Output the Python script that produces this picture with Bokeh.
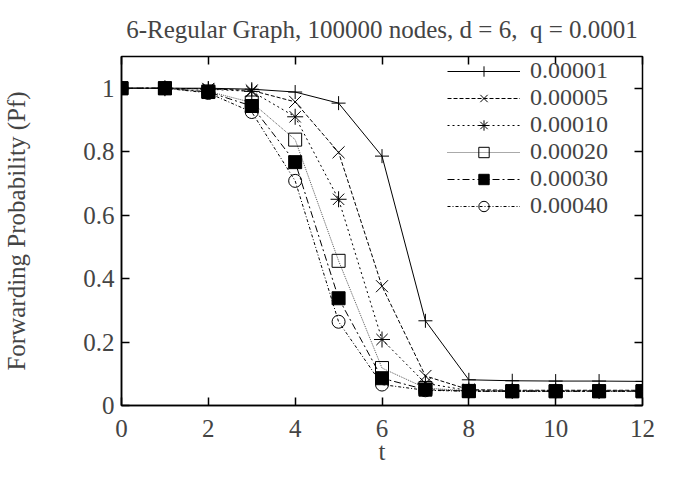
from bokeh.plotting import figure
from bokeh.models import FixedTicker, CustomJSTickFormatter, LinearAxis, Legend, Range1d
from bokeh.embed import file_html
from bokeh.resources import INLINE

t = [0, 1, 2, 3, 4, 5, 6, 7, 8, 9, 10, 11, 12]
labels = ["0.00001", "0.00005", "0.00010", "0.00020", "0.00030", "0.00040"]
p_00001 = [1, 1, 1, 0.997, 0.988, 0.953, 0.786, 0.267, 0.081, 0.078, 0.077, 0.077, 0.076]
p_00005 = [1, 1, 0.998, 0.993, 0.957, 0.798, 0.376, 0.093, 0.050, 0.048, 0.048, 0.048, 0.048]
p_00010 = [1, 1, 0.997, 0.990, 0.910, 0.650, 0.208, 0.070, 0.047, 0.046, 0.046, 0.046, 0.046]
p_00020 = [1, 1, 0.990, 0.955, 0.838, 0.456, 0.118, 0.055, 0.046, 0.045, 0.045, 0.045, 0.045]
p_00030 = [1, 1, 0.988, 0.944, 0.767, 0.338, 0.086, 0.050, 0.045, 0.045, 0.045, 0.045, 0.045]
p_00040 = [1, 1, 0.985, 0.925, 0.708, 0.264, 0.066, 0.048, 0.045, 0.045, 0.045, 0.045, 0.045]
series = [p_00001, p_00005, p_00010, p_00020, p_00030, p_00040]
x_ticks = [0, 2, 4, 6, 8, 10, 12]
y_ticks = [0, 0.2, 0.4, 0.6, 0.8, 1]

styles = [
    dict(dash="solid", color="black", marker="cross", fill=None, size=14),
    dict(dash="4 2", color="black", marker="x", fill=None, size=17),
    dict(dash="2 3", color="black", marker="asterisk", fill=None, size=16),
    dict(dash="1 1", color="#555555", marker="square", fill=None, size=13),
    dict(dash="7 3 2 3", color="black", marker="square", fill="black", size=13),
    dict(dash="3 2 1 2", color="black", marker="circle", fill=None, size=13),
]

FONT = "Liberation Serif"
FS = "25px"

p = figure(width=669, height=473, output_backend="svg", toolbar_location=None,
           x_range=Range1d(0, 12), y_range=Range1d(0, 1.1),
           min_border_left=116, min_border_right=27, min_border_top=51, min_border_bottom=68)

p.title.text = "6-Regular Graph, 100000 nodes, d = 6,\u00a0 q = 0.0001"
p.title.text_font = FONT
p.title.text_font_size = FS
p.title.text_font_style = "normal"
p.title.align = "center"
p.title.standoff = 27

p.xgrid.visible = False
p.ygrid.visible = False
p.outline_line_color = "black"
p.outline_line_width = 1.5

for ax in (p.xaxis[0], p.yaxis[0]):
    ax.major_label_text_font = FONT
    ax.major_label_text_font_size = FS
    ax.axis_label_text_font = FONT
    ax.axis_label_text_font_size = FS
    ax.axis_label_text_font_style = "normal"
    ax.major_tick_in = 8
    ax.major_tick_out = 0
    ax.minor_tick_line_color = None
    ax.axis_line_width = 1.5
    ax.major_tick_line_width = 1.5

p.xaxis[0].ticker = FixedTicker(ticks=x_ticks)
p.yaxis[0].ticker = FixedTicker(ticks=y_ticks)
p.yaxis[0].formatter = CustomJSTickFormatter(code="return String(Math.round(tick*10)/10);")
p.xaxis[0].axis_label = "t"
p.yaxis[0].axis_label = "Forwarding Probability (Pf)"
p.xaxis[0].major_label_standoff = 14
p.xaxis[0].axis_label_standoff = -2
p.yaxis[0].major_label_standoff = 7
p.yaxis[0].axis_label_standoff = 50

top = LinearAxis(ticker=FixedTicker(ticks=x_ticks), formatter=CustomJSTickFormatter(code="return '';"),
                 major_tick_in=8, major_tick_out=0, minor_tick_line_color=None,
                 axis_line_color=None, major_label_standoff=0, major_tick_line_width=1.5)
right = LinearAxis(ticker=FixedTicker(ticks=y_ticks), formatter=CustomJSTickFormatter(code="return '';"),
                   major_tick_in=8, major_tick_out=0, minor_tick_line_color=None,
                   axis_line_color=None, major_label_standoff=0, major_tick_line_width=1.5)
p.add_layout(top, "above")
p.add_layout(right, "right")

items = []
for lab, ys, st in zip(labels, series, styles):
    r1 = p.line(t, ys, line_color=st["color"], line_dash=st["dash"], line_width=1)
    r2 = p.scatter(t, ys, marker=st["marker"], size=st["size"], line_color="black", line_width=1,
                   fill_color=st["fill"])
    items.append((lab, [r1, r2]))

legend = Legend(items=items, location=(326, 186), background_fill_alpha=0,
                border_line_color=None, label_text_font=FONT, label_text_font_size="24px",
                glyph_width=73, glyph_height=26, label_height=26, spacing=0, padding=0,
                margin=0, label_standoff=10)
p.add_layout(legend, "center")

open("out.html", "w").write(file_html(p, INLINE))
